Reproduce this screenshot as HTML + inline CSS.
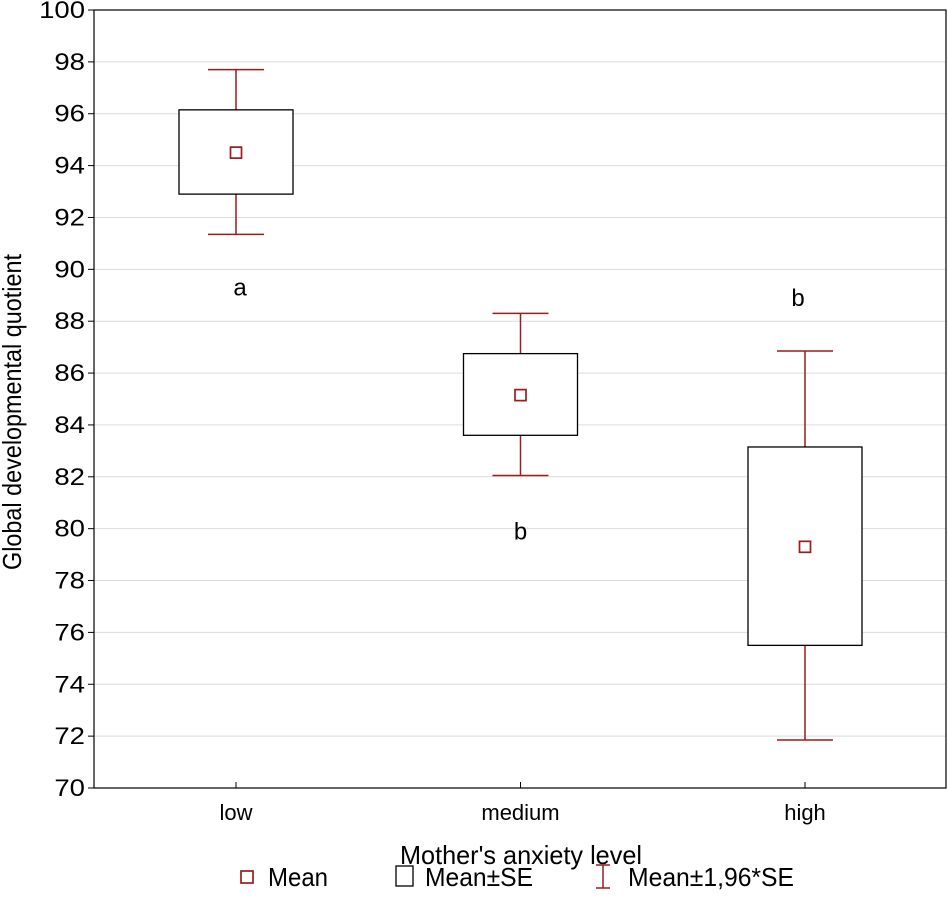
<!DOCTYPE html>
<html><head><meta charset="utf-8"><style>
body{margin:0;background:#fff;font-family:"Liberation Sans",sans-serif;}
svg text{font-family:"Liberation Sans",sans-serif;fill:#000;}
</style></head><body>
<svg id="chart" width="948" height="918"></svg>
<script>
const categories=["low","medium","high"];
const means=[94.5,85.15,79.3];
const seLow=[92.9,83.6,75.5];
const seHigh=[96.15,86.75,83.15];
const ciLow=[91.35,82.05,71.85];
const ciHigh=[97.7,88.3,86.85];
const letters=["a","b","b"];
const letterPos=[89.3,79.9,88.9];
const yTicks=[70,72,74,76,78,80,82,84,86,88,90,92,94,96,98,100];

const svg=document.getElementById('chart');
const NS="http://www.w3.org/2000/svg";
const L=94,R=946,T=10,B=788;
const y=v=>T+(100-v)/30*(B-T);
const xc=i=>236+i*284.5;
const letterDx=[4,0,-7];
const red="#9b1c1c";
function mk(tag,attrs,parent){const e=document.createElementNS(NS,tag);for(const k in attrs)e.setAttribute(k,attrs[k]);(parent||svg).appendChild(e);return e;}

yTicks.forEach(t=>{
  const g=mk('line',{x1:L,x2:R,y1:y(t),y2:y(t),stroke:'#dcdcdc','stroke-width':1});
  
  
  const tk=mk('line',{x1:L-6,x2:L,y1:y(t),y2:y(t),stroke:'#000'});
  
  
  const s=String(t);
  const tx=mk('text',{x:L-9,y:y(t)+8,'text-anchor':'end','font-size':24,textLength:15.3*s.length,lengthAdjust:'spacingAndGlyphs'});
  tx.textContent=s;
  
  
});
const frame=mk('rect',{x:L,y:T,width:R-L,height:B-T,fill:'none',stroke:'#000','stroke-width':1.2});



categories.forEach((c,i)=>{
  const x=xc(i);
  const g=mk('g',{});
  
  
  mk('line',{x1:x,x2:x,y1:y(ciHigh[i]),y2:y(seHigh[i]),stroke:red,'stroke-width':1.5},g);
  mk('line',{x1:x,x2:x,y1:y(seLow[i]),y2:y(ciLow[i]),stroke:red,'stroke-width':1.5},g);
  mk('line',{x1:x-28,x2:x+28,y1:y(ciHigh[i]),y2:y(ciHigh[i]),stroke:red,'stroke-width':1.5},g);
  mk('line',{x1:x-28,x2:x+28,y1:y(ciLow[i]),y2:y(ciLow[i]),stroke:red,'stroke-width':1.5},g);
  const b=mk('rect',{x:x-57,y:y(seHigh[i]),width:114,height:y(seLow[i])-y(seHigh[i]),fill:'#fff',stroke:'#000','stroke-width':1.3},g);
  
  
  const m=mk('rect',{x:x-5.5,y:y(means[i])-5.5,width:11,height:11,fill:'#fff',stroke:red,'stroke-width':1.7},g);
  
  
  const lt=mk('text',{x:x+letterDx[i],y:y(letterPos[i])+8,'text-anchor':'middle','font-size':24},g);
  lt.textContent=letters[i];
  
  
  mk('line',{x1:x,x2:x,y1:B,y2:B-6,stroke:'#000'},g);
  const xl=mk('text',{x:x,y:820,'text-anchor':'middle','font-size':22},g);
  xl.textContent=c;
  
  
});
</script>
<svg width="948" height="918" style="position:absolute;left:0;top:0">
<text x="400" y="864" font-size="26" textLength="242" lengthAdjust="spacingAndGlyphs">Mother's anxiety level</text>
<text transform="translate(21,412) rotate(-90)" text-anchor="middle" font-size="26" textLength="316" lengthAdjust="spacingAndGlyphs">Global developmental quotient</text>
<g>
<rect x="241" y="871" width="12" height="12" fill="#fff" stroke="#9b1c1c" stroke-width="1.7"/>
<text x="268" y="886" font-size="26" textLength="60" lengthAdjust="spacingAndGlyphs">Mean</text>
<rect x="396" y="866" width="17" height="20" fill="#fff" stroke="#000" stroke-width="1.3"/>
<text x="425" y="886" font-size="26" textLength="108" lengthAdjust="spacingAndGlyphs">Mean±SE</text>
<g stroke="#9b1c1c" stroke-width="1.5"><line x1="603" x2="603" y1="865" y2="888"/><line x1="596" x2="610" y1="865" y2="865"/><line x1="596" x2="610" y1="888" y2="888"/></g>
<text x="628" y="886" font-size="26" textLength="166" lengthAdjust="spacingAndGlyphs">Mean±1,96*SE</text>
</g>
</svg>
</body></html>
